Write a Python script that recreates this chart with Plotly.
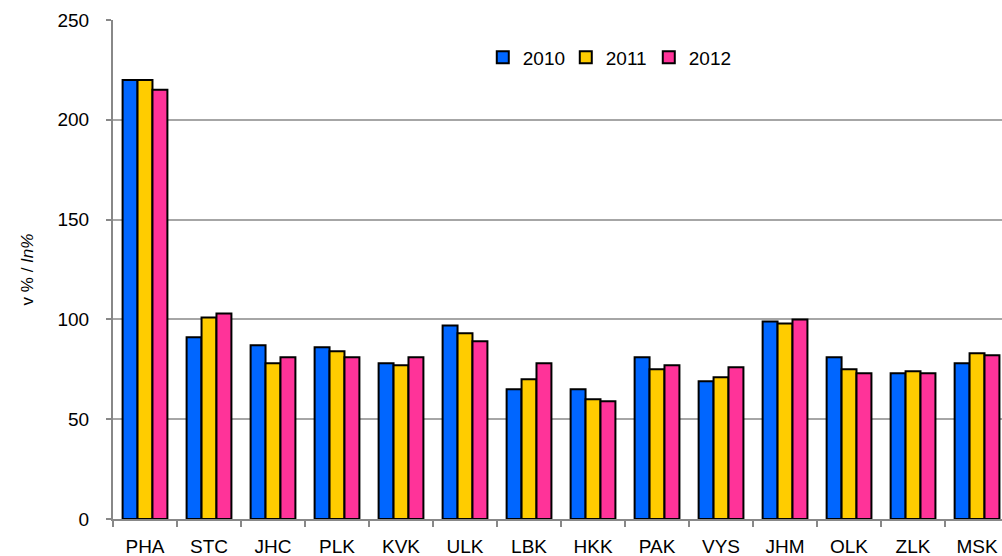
import plotly.graph_objects as go

regions = ["PHA", "STC", "JHC", "PLK", "KVK", "ULK", "LBK", "HKK", "PAK", "VYS", "JHM", "OLK", "ZLK", "MSK"]
v2010 = [220, 91, 87, 86, 78, 97, 65, 65, 81, 69, 99, 81, 73, 78]
v2011 = [220, 101, 78, 84, 77, 93, 70, 60, 75, 71, 98, 75, 74, 83]
v2012 = [215, 103, 81, 81, 81, 89, 78, 59, 77, 76, 100, 73, 73, 82]
years = ["2010", "2011", "2012"]
colors = ["#0066FF", "#FFCC00", "#FF3399"]

fig = go.Figure()
for name, vals, col in zip(years, [v2010, v2011, v2012], colors):
    fig.add_trace(go.Bar(
        x=regions, y=vals, name=name,
        marker=dict(color=col, line=dict(color="black", width=2)),
    ))

font_family = "Arial, Liberation Sans, sans-serif"
fig.update_layout(
    width=1002, height=556,
    margin=dict(l=113, r=0, t=20, b=37),
    plot_bgcolor="white", paper_bgcolor="white",
    barmode="group", bargap=0.3, bargroupgap=0,
    font=dict(family=font_family, size=19, color="black"),
    showlegend=True,
    legend=dict(
        orientation="h", x=0.556, y=0.925, xanchor="center", yanchor="middle",
        font=dict(size=19), bgcolor="rgba(0,0,0,0)",
        itemwidth=30, tracegroupgap=0,
        entrywidth=38, entrywidthmode="pixels",
    ),
    xaxis=dict(
        range=[-0.5, 13.39],
        showline=True, linecolor="#888888", linewidth=2,
        ticks="outside", ticklen=6, tickcolor="#888888", tickwidth=2,
        tickson="boundaries", showgrid=False,
        ticklabelstandoff=9,
        tickfont=dict(size=19),
    ),
    yaxis=dict(
        range=[0, 250], tickvals=[0, 50, 100, 150, 200, 250],
        showline=True, linecolor="#888888", linewidth=2,
        ticks="outside", ticklen=5, tickcolor="#888888", tickwidth=2,
        showgrid=True, gridcolor="#A6A6A6", gridwidth=1.5,
        zeroline=False,
        ticklabelstandoff=13,
        tickfont=dict(size=19),
        title=dict(text="v % / <i>In%</i>", font=dict(size=17), standoff=20),
    ),
)

fig.write_html(
    "out.html",
    config={"displayModeBar": False},
    post_script="document.body.style.margin='0';document.body.style.overflow='hidden';",
)
